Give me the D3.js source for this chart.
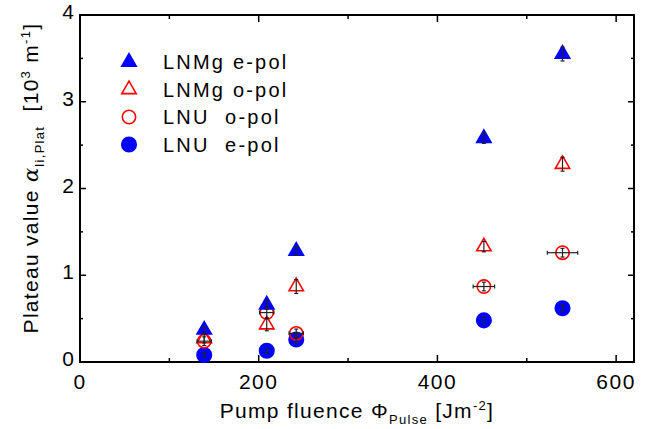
<!DOCTYPE html>
<html>
<head>
<meta charset="utf-8">
<script src="https://cdn.jsdelivr.net/npm/d3@7"></script>
<style>
  body { margin: 0; background: #fff; }
  svg { font-family: "Liberation Sans", Arial, sans-serif; }
</style>
</head>
<body>
<div id="chart"></div>
<script>
// data
const fluence = [139, 209, 242, 452, 540];
const lnmgE = [0.37, 0.66, 1.28, 2.58, 3.55];
const lnmgEErr = [0.04, 0.05, 0.05, 0.06, 0.08];
const lnmgO = [0.27, 0.43, 0.87, 1.33, 2.28];
const lnmgOErr = [0.05, 0.07, 0.08, 0.06, 0.08];
const lnuO = [0.24, 0.57, 0.33, 0.87, 1.26];
const lnuOErr = [0.05, 0.06, 0.05, 0.05, 0.05];
const lnuOXErr = [8, 8, 8, 12, 17];
const lnuE = [0.08, 0.13, 0.26, 0.48, 0.62];
const lnuEErr = [0.03, 0.03, 0.04, 0.04, 0.04];
const xTicks = [0, 200, 400, 600];
const yTicks = [0, 1, 2, 3, 4];

const width = 649, height = 429;
const margin = { left: 80, right: 15, top: 15, bottom: 67 };

const svg = d3.select('#chart').append('svg')
    .attr('width', width)
    .attr('height', height);

const x = d3.scaleLinear().domain([0, 620]).range([margin.left, width - margin.right]);
const y = d3.scaleLinear().domain([0, 4]).range([height - margin.bottom, margin.top]);

// frame with inward ticks
const frame = svg.append('g');
frame.append('rect')
    .attr('x', x(0)).attr('y', y(4))
    .attr('width', x(620) - x(0)).attr('height', y(0) - y(4))
    .attr('fill', 'none').attr('stroke', '#000').attr('stroke-width', 2);

d3.range(100, 620, 100).forEach(v => {
    const len = v % 200 === 0 ? 7 : 4;
    frame.append('line').attr('x1', x(v)).attr('x2', x(v))
        .attr('y1', y(0)).attr('y2', y(0) - len).attr('stroke', '#000').attr('stroke-width', 1.5);
    frame.append('line').attr('x1', x(v)).attr('x2', x(v))
        .attr('y1', y(4)).attr('y2', y(4) + len).attr('stroke', '#000').attr('stroke-width', 1.5);
});
d3.range(0.5, 4, 0.5).forEach(v => {
    const len = v % 1 === 0 ? 6 : 3;
    frame.append('line').attr('x1', x(0)).attr('x2', x(0) + len)
        .attr('y1', y(v)).attr('y2', y(v)).attr('stroke', '#000').attr('stroke-width', 1.5);
    frame.append('line').attr('x1', x(620)).attr('x2', x(620) - len)
        .attr('y1', y(v)).attr('y2', y(v)).attr('stroke', '#000').attr('stroke-width', 1.5);
});

// tick labels
svg.append('g').selectAll('text').data(xTicks).enter().append('text')
    .attr('x', d => x(d)).attr('y', y(0) + 27)
    .attr('text-anchor', 'middle')
    .style('font-size', '21px')
    .style('letter-spacing', '1.5px')
    .text(d => d);

svg.append('g').selectAll('text').data(yTicks).enter().append('text')
    .attr('x', x(0) - 6).attr('y', d => y(d) + 4)
    .attr('text-anchor', 'end')
    .style('font-size', '21px')
    .text(d => d);

// axis titles
const xt = svg.append('text')
    .attr('x', 357).attr('y', 418)
    .attr('text-anchor', 'middle')
    .style('font-size', '21px')
    .style('letter-spacing', '1.3px');
xt.append('tspan').text('Pump fluence \u03A6');
xt.append('tspan').attr('dy', 6).style('font-size', '13px').text('Pulse');
xt.append('tspan').attr('dy', -6).text(' [Jm');
xt.append('tspan').attr('dy', -8).style('font-size', '13px').text('-2');
xt.append('tspan').attr('dy', 8).text(']');

const yt = svg.append('text')
    .attr('transform', 'translate(38,' + 178 + ') rotate(-90)')
    .attr('text-anchor', 'middle')
    .style('font-size', '21px')
    .style('letter-spacing', '1.3px');
yt.append('tspan').text('Plateau value ');
yt.append('tspan').style('font-family', 'DejaVu Serif').style('font-style', 'italic').text('\u03B1');
yt.append('tspan').attr('dy', 6).style('font-size', '13px').text('li,Plat');
yt.append('tspan').attr('dy', -6).attr('xml:space', 'preserve').text('  [10');
yt.append('tspan').attr('dy', -8).style('font-size', '13px').text('3');
yt.append('tspan').attr('dy', 8).text(' m');
yt.append('tspan').attr('dy', -8).style('font-size', '13px').text('-1');
yt.append('tspan').attr('dy', 8).text(']');

// series
const series = [
    { name: 'LNMg e-pol', vals: lnmgE, err: lnmgEErr, shape: d3.symbolTriangle, fill: '#0000ff', stroke: '#0000ff' },
    { name: 'LNMg o-pol', vals: lnmgO, err: lnmgOErr, shape: d3.symbolTriangle, fill: 'none', stroke: '#ff0000' },
    { name: 'LNU  o-pol', vals: lnuO, err: lnuOErr, xerr: lnuOXErr, shape: d3.symbolCircle, fill: 'none', stroke: '#ff0000' },
    { name: 'LNU  e-pol', vals: lnuE, err: lnuEErr, shape: d3.symbolCircle, fill: '#0000ff', stroke: '#0000ff' }
];

const symSize = (s, filled) => s === d3.symbolTriangle ? 90 : (filled ? 165 : 140);

const plot = svg.append('g');
series.slice().reverse().forEach(s => {
    const g = plot.append('g');
    g.selectAll('path').data(fluence).enter().append('path')
        .attr('transform', (d, i) => `translate(${x(d)},${y(s.vals[i])})`)
        .attr('d', d3.symbol().type(s.shape).size(symSize(s.shape, s.fill !== 'none')))
        .attr('fill', s.fill)
        .attr('stroke', s.stroke)
        .attr('stroke-width', 1.6);
});

// error bars on top
series.forEach(s => {
    const g = plot.append('g').attr('stroke', '#222').attr('stroke-width', 1.2);
    fluence.forEach((d, i) => {
        const cx = x(d), y1 = y(s.vals[i] - s.err[i]), y2 = y(s.vals[i] + s.err[i]);
        g.append('line').attr('x1', cx).attr('x2', cx).attr('y1', y1).attr('y2', y2);
        g.append('line').attr('x1', cx - 2).attr('x2', cx + 2).attr('y1', y1).attr('y2', y1);
        g.append('line').attr('x1', cx - 2).attr('x2', cx + 2).attr('y1', y2).attr('y2', y2);
        if (s.xerr) {
            const cy = y(s.vals[i]), x1 = x(d - s.xerr[i]), x2 = x(d + s.xerr[i]);
            g.append('line').attr('x1', x1).attr('x2', x2).attr('y1', cy).attr('y2', cy);
            g.append('line').attr('x1', x1).attr('x2', x1).attr('y1', cy - 2).attr('y2', cy + 2);
            g.append('line').attr('x1', x2).attr('x2', x2).attr('y1', cy - 2).attr('y2', cy + 2);
        }
    });
});

// legend
const legend = svg.append('g');
series.forEach((s, i) => {
    const ly = 62 + i * 27.5;
    legend.append('path')
        .attr('transform', `translate(129,${ly})`)
        .attr('d', d3.symbol().type(s.shape).size(symSize(s.shape, s.fill !== 'none')))
        .attr('fill', s.fill)
        .attr('stroke', s.stroke)
        .attr('stroke-width', 1.6);
    legend.append('text')
        .attr('x', 163).attr('y', ly + 7)
        .attr('xml:space', 'preserve')
        .style('font-size', '20px')
        .style('letter-spacing', '2.2px')
        .text(s.name);
});
</script>
</body>
</html>
